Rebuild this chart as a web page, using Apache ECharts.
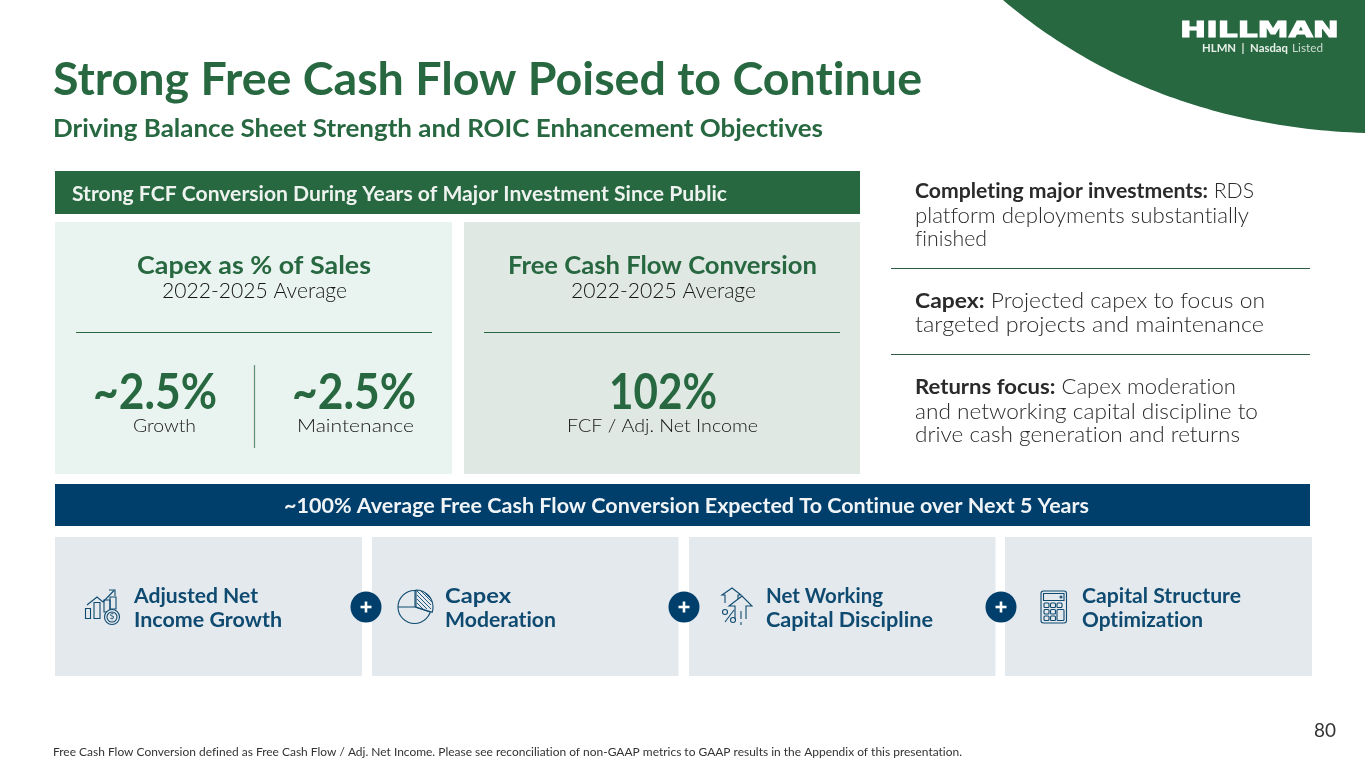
<!DOCTYPE html>
<html><head><meta charset="utf-8">
<style>html,body{margin:0;padding:0;background:#fff}#c{width:1365px;height:762px}</style>
<script src="https://cdn.jsdelivr.net/npm/echarts@6/dist/echarts.min.js"></script>
</head><body><div id="c"></div>
<script>
const titleText = 'Strong Free Cash Flow Poised to Continue';
const subtitleText = 'Driving Balance Sheet Strength and ROIC Enhancement Objectives';
const headerText = 'Strong FCF Conversion During Years of Major Investment Since Public';
const capexPanel = ['Capex as % of Sales', '2022-2025 Average'];
const fcfPanel = ['Free Cash Flow Conversion', '2022-2025 Average'];
const capexValues = ['~2.5%', '~2.5%'];
const capexLabels = ['Growth', 'Maintenance'];
const fcfValue = ['102%'];
const fcfLabel = ['FCF / Adj. Net Income'];
const bullet1 = [['Completing major investments:', ' RDS'], ['', 'platform deployments substantially'], ['', 'finished']];
const bullet2 = [['Capex:', ' Projected capex to focus on'], ['', 'targeted projects and maintenance']];
const bullet3 = [['Returns focus:', ' Capex moderation'], ['', 'and networking capital discipline to'], ['', 'drive cash generation and returns']];
const bannerText = '~100% Average Free Cash Flow Conversion Expected To Continue over Next 5 Years';
const drivers = [['Adjusted Net', 'Income Growth'], ['Capex', 'Moderation'], ['Net Working', 'Capital Discipline'], ['Capital Structure', 'Optimization']];
const footnote = 'Free Cash Flow Conversion defined as Free Cash Flow / Adj. Net Income. Please see reconciliation of non-GAAP metrics to GAAP results in the Appendix of this presentation.';
const pageNumber = '80';
const logoName = 'HILLMAN';
const logoSub = ['HLMN  |  Nasdaq', ' Listed'];

// Keep the Lato fi/ti ligatures out of the picture.
const origGetContext = HTMLCanvasElement.prototype.getContext;
HTMLCanvasElement.prototype.getContext = function () {
  const x = origGetContext.apply(this, arguments);
  if (x && arguments[0] === '2d' && 'textRendering' in x) x.textRendering = 'optimizeSpeed';
  return x;
};

const GREEN = '#276841', NAVY = '#003f6b', INK = '#161616', TEAL = '#0f4a70';
const BODY = 'Lato', HEAD = 'Lato', LIGHT = '300';
const ctx = document.createElement('canvas').getContext('2d');
const g = [];
function width(s, size, weight, fam) { ctx.font = `${weight} ${size}px "${fam}"`; return ctx.measureText(s).width; }
function T(s, x0, x1, y, size, o) {
  o = o || {};
  const weight = o.weight || LIGHT, fam = o.fam || BODY;
  const sx = (x1 - x0) / width(s, size, weight, fam);
  g.push({ type: 'text', x: x0, y: y, scaleX: sx, z: 10, style: { text: s, fill: o.color || INK, fontFamily: fam, fontWeight: weight, fontSize: size, textAlign: 'left', textVerticalAlign: 'middle', stroke: o.stroke || null, lineWidth: o.lw || 0 } });
}
function Mixed(seg, x0, x1, y, size, o) {
  const wB = seg[0] ? width(seg[0], size, 'bold', BODY) : 0, wR = width(seg[1], size, LIGHT, BODY);
  const sx = (x1 - x0) / (wB + wR);
  if (seg[0]) g.push({ type: 'text', x: x0, y: y, scaleX: sx, z: 10, style: { text: seg[0], fill: o.color, fontFamily: BODY, fontWeight: 'bold', fontSize: size, textAlign: 'left', textVerticalAlign: 'middle' } });
  g.push({ type: 'text', x: x0 + wB * sx, y: y, scaleX: sx, z: 10, style: { text: seg[1], fill: o.color, fontFamily: BODY, fontWeight: LIGHT, fontSize: size, textAlign: 'left', textVerticalAlign: 'middle' } });
}
function R(x, y, w, h, fill) { g.push({ type: 'rect', z: 1, shape: { x, y, width: w, height: h }, style: { fill } }); }
function L(x1, y1, x2, y2, c, lw) { g.push({ type: 'line', z: 5, shape: { x1, y1, x2, y2 }, style: { stroke: c, lineWidth: lw || 1 } }); }
function PL(points, c, lw) { g.push({ type: 'polyline', z: 6, shape: { points }, style: { stroke: c || TEAL, lineWidth: lw || 1.1, fill: null } }); }
function BOX(x, y, w, h, r) { g.push({ type: 'rect', z: 6, shape: { x, y, width: w, height: h, r: r || 0 }, style: { stroke: TEAL, lineWidth: 1.1, fill: 'none' } }); }
function CIRC(cx, cy, r, fill, stroke) { g.push({ type: 'circle', z: 6, shape: { cx, cy, r }, style: { fill: fill || 'none', stroke: stroke || null, lineWidth: 1.1 } }); }

// corner swoosh
const swoosh = [[1365, 0]];
for (let i = 0; i <= 60; i++) {
  const t = i / 60, u = 1 - t;
  swoosh.push([u*u*u*1003 + 3*u*u*t*1095 + 3*u*t*t*1215 + t*t*t*1365, 3*u*u*t*78 + 3*u*t*t*128 + t*t*t*133]);
}
g.push({ type: 'polygon', z: 1, shape: { points: swoosh }, style: { fill: GREEN } });
T(logoName, 1180, 1339, 32, 21, { fam: 'DejaVu Sans', weight: 'bold', color: '#fff', stroke: '#fff', lw: 1 });
T(logoSub[0], 1202, 1288, 48.5, 11.5, { weight: 'bold', color: '#e8efe9' });
T(logoSub[1], 1289, 1323, 48.5, 11.5, { weight: 'normal', color: '#cfdcd2' });

// headline
T(titleText, 53, 922, 80, 46, { fam: HEAD, weight: 'bold', color: GREEN });
T(subtitleText, 53, 823, 129, 24, { fam: HEAD, weight: 'bold', color: GREEN });

// panels
R(55, 171, 805, 43, GREEN);
T(headerText, 72, 727, 195, 20, { fam: HEAD, weight: 'bold', color: '#eef3ef' });
R(55, 222, 397, 252, '#e9f3ef');
R(464, 222, 396, 252, '#e0e8e3');
T(capexPanel[0], 137, 371, 266, 24, { weight: 'bold', color: GREEN });
T(capexPanel[1], 162, 347, 291, 21);
T(fcfPanel[0], 508, 817, 266, 24, { weight: 'bold', color: GREEN });
T(fcfPanel[1], 571, 756, 291, 21);
L(76, 332.5, 432, 332.5, GREEN, 1);
L(484, 332.5, 840, 332.5, GREEN, 1);
L(254.5, 365, 254.5, 448, '#5f8f76', 1.2);
T(capexValues[0], 93, 217, 393, 50, { weight: 'bold', color: GREEN });
T(capexValues[1], 292, 416, 393, 50, { weight: 'bold', color: GREEN });
T(fcfValue[0], 609, 717, 393, 50, { weight: 'bold', color: GREEN });
T(capexLabels[0], 133, 196, 426.5, 18.5);
T(capexLabels[1], 297, 414, 426.5, 18.5);
T(fcfLabel[0], 567, 758, 426.5, 18.5);

// right column
const c = { color: '#2a2a2a' };
Mixed(bullet1[0], 915, 1254, 191, 21, c);
Mixed(bullet1[1], 915, 1249, 216, 21, c);
Mixed(bullet1[2], 915, 987, 239, 21, c);
L(891, 268.5, 1310, 268.5, '#2f5a42', 1);
Mixed(bullet2[0], 915, 1265, 301, 21, c);
Mixed(bullet2[1], 915, 1264, 325, 21, c);
L(891, 354.5, 1310, 354.5, '#2f5a42', 1);
Mixed(bullet3[0], 915, 1236, 387, 21, c);
Mixed(bullet3[1], 915, 1258, 412, 21, c);
Mixed(bullet3[2], 915, 1240, 435, 21, c);

// banner
R(55, 484, 1255, 42, NAVY);
T(bannerText, 284, 1089, 506.5, 20, { fam: HEAD, weight: 'bold', color: '#f0f4f7' });

// driver cards
[[55, 307], [372, 306.5], [689, 306.5], [1005, 307]].forEach(d => R(d[0], 537, d[1], 139, '#e4e9ee'));
const dColor = { weight: 'bold', color: TEAL };
T(drivers[0][0], 134, 258, 596, 21, dColor); T(drivers[0][1], 134, 282, 620, 21, dColor);
T(drivers[1][0], 445, 511, 596, 21, dColor); T(drivers[1][1], 445, 556, 620, 21, dColor);
T(drivers[2][0], 766, 883, 596, 21, dColor); T(drivers[2][1], 766, 933, 620, 21, dColor);
T(drivers[3][0], 1082, 1241, 596, 21, dColor); T(drivers[3][1], 1082, 1203, 620, 21, dColor);

// plus buttons
[366, 684, 1001].forEach(x => {
  CIRC(x, 607, 15.5, NAVY);
  g.push({ type: 'rect', z: 7, shape: { x: x - 5.5, y: 605.7, width: 11, height: 2.6 }, style: { fill: '#fff' } });
  g.push({ type: 'rect', z: 7, shape: { x: x - 1.3, y: 601.5, width: 2.6, height: 11 }, style: { fill: '#fff' } });
});

// icon: bars, trend, coin
BOX(85.5, 608.5, 5, 10); BOX(94, 602.5, 6, 16); BOX(104, 600, 6, 12); BOX(110, 597, 6, 12);
PL([[87, 605], [97, 597], [103, 602], [114, 590.5]]); PL([[109, 590], [115, 590], [115, 596]]);
CIRC(112, 617, 7.5, '#e4e9ee', TEAL); CIRC(112, 617, 5, 'none', TEAL);
g.push({ type: 'text', x: 112, y: 617, z: 8, style: { text: '$', fill: TEAL, fontSize: 8, fontFamily: 'DejaVu Sans', textAlign: 'center', textVerticalAlign: 'middle' } });

// icon: pie with hatched wedge
const RAD = Math.PI / 180;
CIRC(414.5, 607, 16.5, 'none', TEAL);
PL([[398, 607], [415, 607], [430, 612]]);
PL([[415, 607], [415, 590.5]]);
g.push({ type: 'sector', z: 6, shape: { cx: 416, cy: 607, r: 17, startAngle: -90 * RAD, endAngle: 18 * RAD }, style: { fill: '#e4e9ee', stroke: TEAL, lineWidth: 1.1 } });
[[417, 591, 431, 605], [421, 591, 432, 602], [417, 595, 431, 609], [417, 599, 427, 609], [417, 603, 423, 609], [425, 593, 431, 599]].forEach(s => g.push({ type: 'line', z: 7, shape: { x1: s[0], y1: s[1], x2: s[2], y2: s[3] }, style: { stroke: TEAL, lineWidth: 0.9 } }));

// icon: up arrows with percent
PL([[725, 603], [725, 595], [722, 595], [732, 588], [741, 595], [738, 595], [738, 599]]);
PL([[735, 619], [735, 606], [729, 606], [742, 596], [752, 606], [746, 606], [746, 619]]);
PL([[741, 611], [741, 619]]);
PL([[725, 622], [734, 610]]);
CIRC(725, 612, 2.5, 'none', TEAL); CIRC(733, 620, 2.5, 'none', TEAL);
PL([[741, 622], [741, 625]]);

// icon: calculator
BOX(1041, 591, 25.5, 32, 2.5); BOX(1043.5, 593.5, 20.5, 7);
CIRC(1061, 597, 1, 'none', TEAL);
[[1044, 603], [1050.5, 603], [1057, 603], [1044, 609.5], [1050.5, 609.5], [1044, 616], [1050.5, 616]].forEach(p => BOX(p[0], p[1], 5, 4.5, 1));
BOX(1057, 609.5, 7, 11, 1);

// footer
T(footnote, 53, 962, 752.5, 10.5, { weight: 'normal', color: '#333333' });
T(pageNumber, 1314, 1336, 731, 19, { weight: 'normal', color: '#333333' });

const chart = echarts.init(document.getElementById('c'), null, { renderer: 'canvas' });
chart.setOption({ animation: false, backgroundColor: '#fff', graphic: { elements: g } });
</script></body></html>
